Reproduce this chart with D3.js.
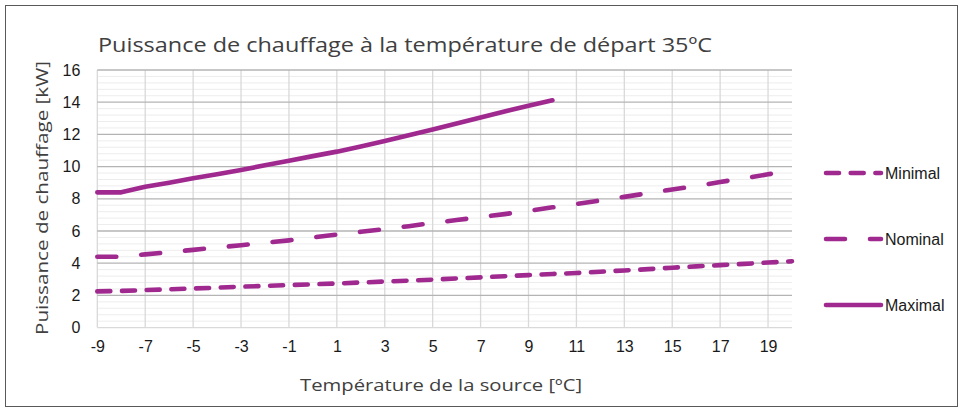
<!DOCTYPE html>
<html>
<head>
<meta charset="utf-8">
<script src="https://cdn.jsdelivr.net/npm/d3@7"></script>
<style>
  html, body { margin: 0; padding: 0; background: #fff; }
  svg { display: block; }
</style>
</head>
<body>
<svg id="chart" width="963" height="409"></svg>
<script>
// Source temperature categories (°C)
const temperatures = d3.range(-9, 21);
// Heating power (kW) per series
const minimal = [2.25, 2.28, 2.33, 2.38, 2.43, 2.48, 2.54, 2.59, 2.64, 2.69,
                 2.74, 2.80, 2.86, 2.92, 2.98, 3.05, 3.12, 3.19, 3.26, 3.33,
                 3.39, 3.47, 3.55, 3.63, 3.72, 3.80, 3.88, 3.96, 4.04, 4.12];
const nominal = [4.40, 4.40, 4.55, 4.68, 4.83, 4.97, 5.12, 5.27, 5.42, 5.60,
                 5.78, 5.95, 6.12, 6.30, 6.50, 6.68, 6.86, 7.05, 7.25, 7.47,
                 7.68, 7.90, 8.12, 8.35, 8.58, 8.80, 9.04, 9.28, 9.52, 9.76];
const maximal = [8.40, 8.40, 8.75, 9.00, 9.27, 9.53, 9.79, 10.08, 10.37, 10.65,
                 10.93, 11.25, 11.59, 11.95, 12.31, 12.68, 13.05, 13.42, 13.78, 14.12];
const xTickLabels = [-9, -7, -5, -3, -1, 1, 3, 5, 7, 9, 11, 13, 15, 17, 19];
const yTickLabels = [0, 2, 4, 6, 8, 10, 12, 14, 16];
const seriesNames = ["Minimal", "Nominal", "Maximal"];

const series = [
  { name: seriesNames[0], values: minimal, dash: "13 11.7" },
  { name: seriesNames[1], values: nominal, dash: "19 25" },
  { name: seriesNames[2], values: maximal, dash: null }
];

const color = "#a0298f";
const svg = d3.select("#chart");

// Outer frame
svg.append("rect")
  .attr("x", 5.5).attr("y", 5.5)
  .attr("width", 952).attr("height", 401)
  .attr("fill", "none").attr("stroke", "#595959").attr("stroke-width", 1);

const plot = { left: 97.3, right: 792, top: 70, bottom: 327.6 };

const x = d3.scaleLinear().domain([-9, 20]).range([plot.left, plot.right]);
const y = d3.scaleLinear().domain([0, 16]).range([plot.bottom, plot.top]);

const g = svg.append("g");

// Minor horizontal gridlines
const minorTicks = d3.range(0, 16.001, 0.4).filter(v => Math.abs(v / 2 - Math.round(v / 2)) > 1e-6);
g.append("g").selectAll("line").data(minorTicks).join("line")
  .attr("x1", plot.left).attr("x2", plot.right)
  .attr("y1", d => y(d)).attr("y2", d => y(d))
  .attr("stroke", "#ededed").attr("stroke-width", 1);

// Vertical gridlines at labelled categories
g.append("g").selectAll("line").data(xTickLabels).join("line")
  .attr("x1", d => x(d)).attr("x2", d => x(d))
  .attr("y1", plot.top).attr("y2", plot.bottom)
  .attr("stroke", "#d9d9d9").attr("stroke-width", 1.3);

// Major horizontal gridlines
g.append("g").selectAll("line").data(yTickLabels.filter(v => v > 0)).join("line")
  .attr("x1", plot.left).attr("x2", plot.right)
  .attr("y1", d => y(d)).attr("y2", d => y(d))
  .attr("stroke", "#b4b4b4").attr("stroke-width", 1.3);

// Category axis baseline
g.append("line")
  .attr("x1", plot.left).attr("x2", plot.right)
  .attr("y1", y(0)).attr("y2", y(0))
  .attr("stroke", "#d9d9d9").attr("stroke-width", 1.3);

const tickFont = s => s.selectAll("text")
  .attr("font-family", "'Liberation Sans', Arial, sans-serif")
  .attr("font-size", 16).attr("fill", "#1a1a1a");

// Y axis labels
const yAxis = d3.axisLeft(y).tickValues(yTickLabels).tickSize(0).tickPadding(17)
  .tickFormat(d => String(d));
svg.append("g").attr("transform", `translate(${plot.left},0)`).call(yAxis)
  .call(s => s.select(".domain").remove())
  .call(tickFont);

// X axis labels (plain hyphen for negatives)
const xAxis = d3.axisBottom(x).tickValues(xTickLabels).tickSize(0).tickPadding(13)
  .tickFormat(d => String(d));
svg.append("g").attr("transform", `translate(0,${plot.bottom})`).call(xAxis)
  .call(s => s.select(".domain").remove())
  .call(tickFont);

// Series lines
const line = d3.line().x((d, i) => x(temperatures[i])).y(d => y(d));
g.append("g").selectAll("path").data(series).join("path")
  .attr("d", d => line(d.values))
  .attr("fill", "none")
  .attr("stroke", color)
  .attr("stroke-width", 4.6)
  .attr("stroke-linecap", "round")
  .attr("stroke-linejoin", "round")
  .attr("stroke-dasharray", d => d.dash);

// Legend
const legendY = d3.scalePoint().domain(seriesNames).range([173, 305]);
const legend = svg.append("g").selectAll("g").data(series).join("g")
  .attr("transform", d => `translate(0,${legendY(d.name)})`);
legend.append("line")
  .attr("x1", 826).attr("x2", 881).attr("y1", 0).attr("y2", 0)
  .attr("stroke", color).attr("stroke-width", 4.6)
  .attr("stroke-linecap", "round")
  .attr("stroke-dasharray", d => d.dash);
legend.append("text")
  .attr("x", 885).attr("y", 0).attr("dy", "0.35em")
  .attr("font-family", "'Liberation Sans', Arial, sans-serif")
  .attr("font-size", 16).attr("fill", "#1a1a1a")
  .text(d => d.name);

// Titles
const titleFont = "'Open Sans', 'Noto Sans', sans-serif";
svg.append("text")
  .attr("x", 98).attr("y", 52)
  .attr("font-family", titleFont)
  .attr("font-size", 20).attr("fill", "#404040")
  .attr("textLength", 614).attr("lengthAdjust", "spacingAndGlyphs")
  .text("Puissance de chauffage à la température de départ 35ºC");

svg.append("text")
  .attr("transform", "translate(48,198) rotate(-90)")
  .attr("text-anchor", "middle")
  .attr("font-family", titleFont)
  .attr("font-size", 17).attr("fill", "#404040")
  .attr("textLength", 274).attr("lengthAdjust", "spacingAndGlyphs")
  .text("Puissance de chauffage [kW]");

svg.append("text")
  .attr("x", 441).attr("y", 391)
  .attr("text-anchor", "middle")
  .attr("font-family", titleFont)
  .attr("font-size", 17).attr("fill", "#404040")
  .attr("textLength", 282).attr("lengthAdjust", "spacingAndGlyphs")
  .text("Température de la source [ºC]");
</script>
</body>
</html>
